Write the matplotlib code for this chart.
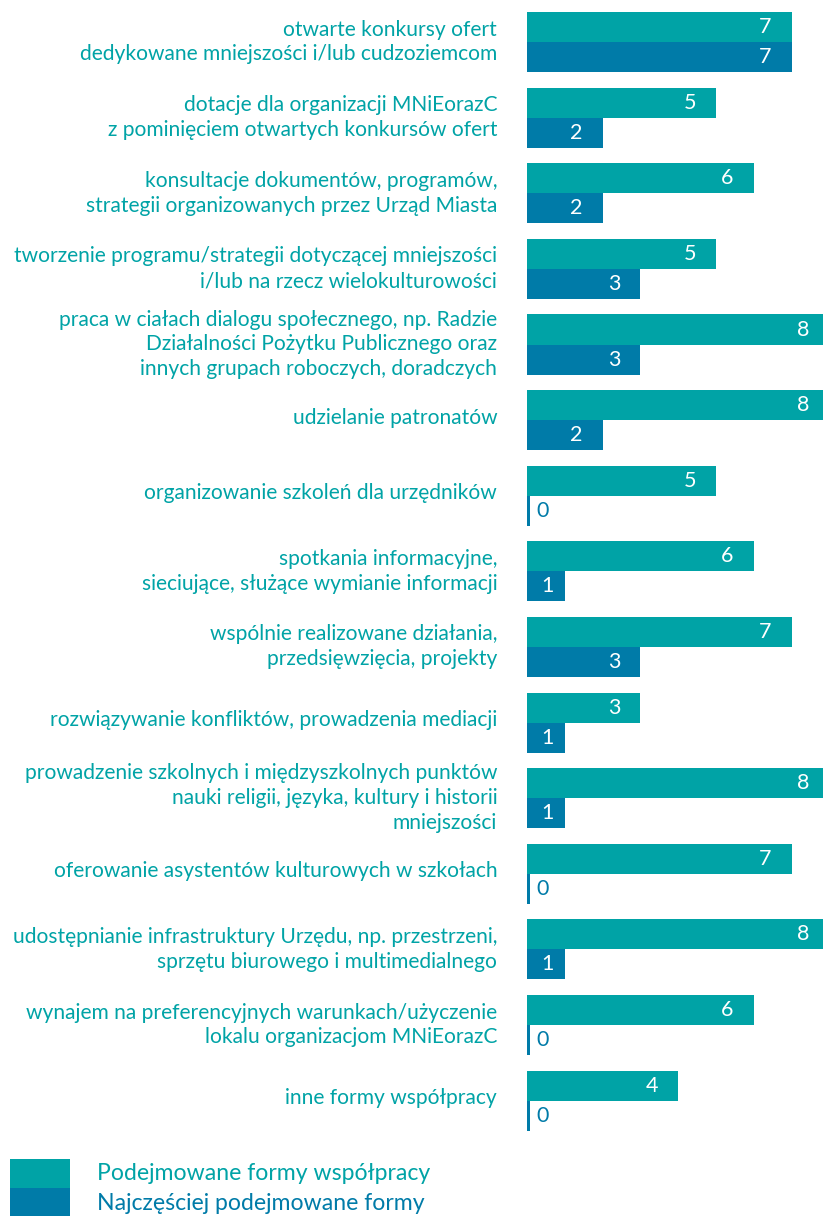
import numpy as np
import matplotlib
matplotlib.use('Agg')
import matplotlib.pyplot as plt
from matplotlib.patches import Rectangle
from matplotlib.transforms import ScaledTranslation

# Chart data
categories = [
    'otwarte konkursy ofert\ndedykowane mniejszości i/lub cudzoziemcom',
    'dotacje dla organizacji MNiEorazC\nz pominięciem otwartych konkursów ofert',
    'konsultacje dokumentów, programów,\nstrategii organizowanych przez Urząd Miasta',
    'tworzenie programu/strategii dotyczącej mniejszości\ni/lub na rzecz wielokulturowości',
    'praca w ciałach dialogu społecznego, np. Radzie\nDziałalności Pożytku Publicznego oraz\ninnych grupach roboczych, doradczych',
    'udzielanie patronatów',
    'organizowanie szkoleń dla urzędników',
    'spotkania informacyjne,\nsieciujące, służące wymianie informacji',
    'wspólnie realizowane działania,\nprzedsięwzięcia, projekty',
    'rozwiązywanie konfliktów, prowadzenia mediacji',
    'prowadzenie szkolnych i międzyszkolnych punktów\nnauki religii, języka, kultury i historii\nmniejszości',
    'oferowanie asystentów kulturowych w szkołach',
    'udostępnianie infrastruktury Urzędu, np. przestrzeni,\nsprzętu biurowego i multimedialnego',
    'wynajem na preferencyjnych warunkach/użyczenie\nlokalu organizacjom MNiEorazC',
    'inne formy współpracy',
]
podejmowane = [7, 5, 6, 5, 8, 8, 5, 6, 7, 3, 8, 7, 8, 6, 4]
najczesciej = [7, 2, 2, 3, 3, 2, 0, 1, 3, 1, 1, 0, 1, 0, 0]
series_names = ['Podejmowane formy współpracy', 'Najczęściej podejmowane formy']

TEAL = '#00A3A6'
BLUE = '#007BA8'

plt.rcParams['font.family'] = ['Lato', 'DejaVu Sans']

W, H = 823, 1216
fig = plt.figure(figsize=(W / 100, H / 100), dpi=100)

# axes placed in pixel terms
ax_left = 527 / W
ax_bottom = 1 - 1140 / H
ax = fig.add_axes([ax_left, ax_bottom, 1 - ax_left, 1140 / H])

y = np.arange(len(categories))
bh = 0.397
top_vals = np.array(podejmowane, dtype=float)
bot_vals = np.array(najczesciej, dtype=float)
min_w = 0.07  # zero values still show a thin stub

ax.barh(y - bh / 2, np.maximum(top_vals, min_w), height=bh, color=TEAL)
ax.barh(y + bh / 2, np.maximum(bot_vals, min_w), height=bh, color=BLUE)

def put_label(v, yy):
    if v == 0:
        ax.text(0.4, yy, '0', color=BLUE, fontsize=15.5, ha='center', va='center')
    else:
        ax.text(v - min(0.7, v * 0.45), yy, str(int(v)), color='white',
                fontsize=15.5, ha='center', va='center')

for i in range(len(categories)):
    put_label(top_vals[i], y[i] - bh / 2)
    put_label(bot_vals[i], y[i] + bh / 2)

ax.set_xlim(0, 296 / 37.8)
ax.set_ylim(14.52, -0.556)
ax.set_yticks(y)
ax.set_yticklabels(categories, fontsize=15.1, color=TEAL, linespacing=1.3)
ax.tick_params(axis='y', length=0, pad=21.5)
shift = ScaledTranslation(0, 0.045, fig.dpi_scale_trans)
for lab in ax.get_yticklabels():
    lab.set_transform(lab.get_transform() + shift)
ax.set_xticks([])
for s in ax.spines.values():
    s.set_visible(False)

# legend
for k, (name, col) in enumerate(zip(series_names, [TEAL, BLUE])):
    y0 = 1159 + k * 29
    fig.add_artist(Rectangle((10 / W, 1 - (y0 + 29) / H), 60 / W, 29 / H,
                             transform=fig.transFigure, color=col, lw=0))
    fig.text(97 / W, 1 - (y0 + 15) / H, name, color=col, fontsize=16.6,
             ha='left', va='center')

fig.savefig('out.png', dpi=100)
